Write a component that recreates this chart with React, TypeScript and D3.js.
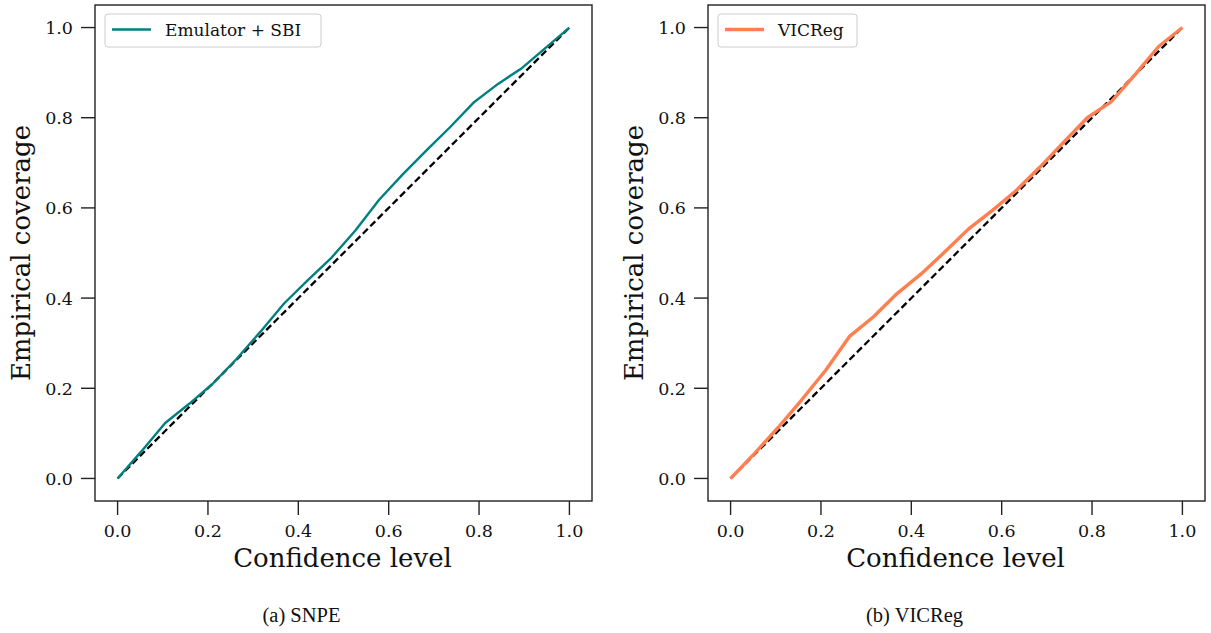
import React from 'react'
import * as d3 from 'd3'

// confidence levels, 20 evenly spaced points
const levels = [0, 0.0526, 0.1053, 0.1579, 0.2105, 0.2632, 0.3158, 0.3684, 0.4211, 0.4737,
  0.5263, 0.5789, 0.6316, 0.6842, 0.7368, 0.7895, 0.8421, 0.8947, 0.9474, 1.0]

const snpeCoverage = [0, 0.06, 0.123, 0.165, 0.21, 0.265, 0.325, 0.388, 0.44, 0.49,
  0.55, 0.618, 0.675, 0.728, 0.78, 0.835, 0.875, 0.91, 0.955, 1.0]

const vicregCoverage = [0, 0.055, 0.113, 0.175, 0.24, 0.315, 0.358, 0.41, 0.453, 0.502,
  0.553, 0.594, 0.638, 0.69, 0.745, 0.8, 0.835, 0.895, 0.958, 1.0]

const tickValues = [0, 0.2, 0.4, 0.6, 0.8, 1.0]
const diagonal = [0, 1]

const panels = [
  { left: 95, label: 'Emulator + SBI', color: '#008080', width: 2.4, values: snpeCoverage, caption: '(a) SNPE', capX: 301.5, legendW: 216 },
  { left: 708, label: 'VICReg', color: '#ff7f50', width: 3.4, values: vicregCoverage, caption: '(b) VICReg', capX: 914.5, legendW: 139 },
]

const boxW = 497
const boxTop = 5
const boxBottom = 501
const tickFont = 'DejaVu Serif'

const Panel = ({ p }: { p: typeof panels[0] }) => {
  const x = d3.scaleLinear().domain([-0.05, 1.05]).range([p.left, p.left + boxW])
  const y = d3.scaleLinear().domain([-0.05, 1.05]).range([boxBottom, boxTop])
  const line = d3.line<number>().x((_, i) => x(levels[i])).y((d) => y(d))
  const diag = d3.line<number>().x((d) => x(d)).y((d) => y(d))
  const midX = p.left + boxW / 2
  return (
    <g>
      <path d={diag(diagonal) || ''} fill="none" stroke="#000" strokeWidth={2.3} strokeDasharray="7,3.5" />
      <path d={line(p.values) || ''} fill="none" stroke={p.color} strokeWidth={p.width} strokeLinejoin="round" />
      <rect x={p.left} y={boxTop} width={boxW} height={boxBottom - boxTop} fill="none" stroke="#222" strokeWidth={1.4} />
      {tickValues.map((t) => (
        <g key={'x' + t}>
          <line x1={x(t)} x2={x(t)} y1={boxBottom} y2={boxBottom + 14} stroke="#222" strokeWidth={1.4} />
          <text x={x(t)} y={536.5} textAnchor="middle" fontFamily={tickFont} fontSize={17.5} fill="#111">{t.toFixed(1)}</text>
        </g>
      ))}
      {tickValues.map((t) => (
        <g key={'y' + t}>
          <line x1={p.left - 14} x2={p.left} y1={y(t)} y2={y(t)} stroke="#222" strokeWidth={1.4} />
          <text x={p.left - 22} y={y(t) + 6.5} textAnchor="end" fontFamily={tickFont} fontSize={17.5} fill="#111">{t.toFixed(1)}</text>
        </g>
      ))}
      <text x={midX - 1} y={567} textAnchor="middle" fontFamily={tickFont} fontSize={26} fill="#111">Confidence level</text>
      <text transform={`translate(${p.left - 65},${(boxTop + boxBottom) / 2}) rotate(-90)`} textAnchor="middle"
        fontFamily={tickFont} fontSize={26} fill="#111">Empirical coverage</text>
      <rect x={p.left + 10} y={14} width={p.legendW} height={33} rx={3} fill="#fff" fillOpacity={0.8} stroke="#ccc" strokeWidth={1} />
      <line x1={p.left + 17} x2={p.left + 56} y1={29.5} y2={29.5} stroke={p.color} strokeWidth={p.width} />
      <text x={p.left + 70} y={35.5} fontFamily={tickFont} fontSize={17} fill="#111">{p.label}</text>
      <text x={p.capX} y={621.5} textAnchor="middle" fontFamily="Liberation Serif" fontSize={20.5} fill="#111">{p.caption}</text>
    </g>
  )
}

export default function App() {
  return (
    <svg width={1211} height={633} style={{ position: 'absolute', left: 0, top: 0, background: '#fff' }}>
      {panels.map((p) => <Panel key={p.label} p={p} />)}
    </svg>
  )
}
